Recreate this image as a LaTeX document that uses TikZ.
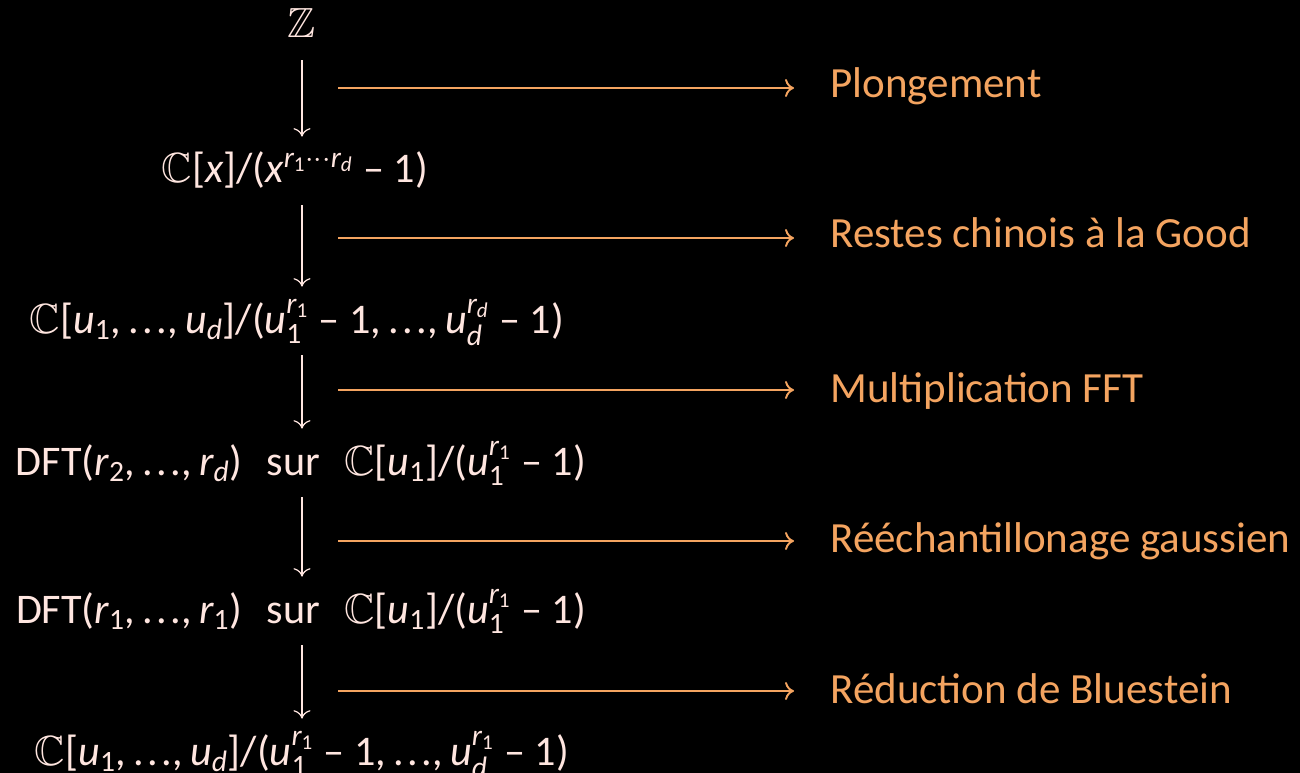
\documentclass[tikz,border=0pt]{standalone}
\usepackage{amsmath}
\usepackage{amssymb}
\usepackage{fontspec}
\setmainfont{Carlito}
\usetikzlibrary{positioning, arrows.meta}
\definecolor{cpink}{RGB}{255,230,224}
\definecolor{corange}{RGB}{244,164,96}
% variables in italic text, numbers and signs upright
\newcommand{\vx}[1]{\textit{#1}}
\newcommand{\nx}[1]{\text{#1}}
\newcommand{\mn}{\mathbin{\nx{–}}}
\newcommand{\cm}{\mathpunct{\nx{,}}}
\newcommand{\dts}{\nx{.\kern0.08em.\kern0.08em.}}

\begin{document}
\begin{tikzpicture}[
    x=0.02cm, y=-0.02cm,
    alg/.style={text=cpink, font=\fontsize{24}{28}\selectfont, anchor=base, inner sep=0pt, text height=0.92cm, text depth=0.44cm},
    lbl/.style={text=corange, font=\fontsize{24.5}{29}\selectfont, anchor=base west, inner sep=0pt},
    varrow/.style={-{To[length=1.7mm, width=3.4mm]}, draw=cpink, line width=0.7pt},
    harrow/.style={-{To[length=1.8mm, width=3.6mm]}, draw=corange, line width=1.1pt, shorten >=0.72cm}
]
\useasboundingbox (0,0) rectangle (1300,773);
\fill[black] (0,0) rectangle (1300,773);

\node[alg, text height=0.6cm] (zz) at (302,38) {$\mathbb{Z}$};
\node[alg] (cx) at (295,183) {$\mathbb{C}\nx{[}\vx{x}\nx{]/(}\vx{x}^{\vx{r}_{\nx{1}}\cdots\vx{r}_{\vx{d}}}\mn\nx{1)}$};
\node[alg] (cu) at (297,333) {$\mathbb{C}\nx{[}\vx{u}_{\nx{1}}\cm\dts\cm\vx{u}_{\vx{d}}\nx{]/(}\vx{u}_{\nx{1}}^{\vx{r}_{\nx{1}}}\mn\nx{1}\cm\dts\cm\vx{u}_{\vx{d}}^{\vx{r}_{\vx{d}}}\mn\nx{1)}$};
\node[alg] (dfta) at (301,475) {$\nx{DFT(}\vx{r}_{\nx{2}}\cm\dts\cm\vx{r}_{\vx{d}}\nx{)}\;\;\nx{sur}\;\;\mathbb{C}\nx{[}\vx{u}_{\nx{1}}\nx{]/(}\vx{u}_{\nx{1}}^{\vx{r}_{\nx{1}}}\mn\nx{1)}$};
\node[alg] (dftb) at (301,623) {$\nx{DFT(}\vx{r}_{\nx{1}}\cm\dts\cm\vx{r}_{\nx{1}}\nx{)}\;\;\nx{sur}\;\;\mathbb{C}\nx{[}\vx{u}_{\nx{1}}\nx{]/(}\vx{u}_{\nx{1}}^{\vx{r}_{\nx{1}}}\mn\nx{1)}$};
\node[alg] (cuu) at (302,765) {$\mathbb{C}\nx{[}\vx{u}_{\nx{1}}\cm\dts\cm\vx{u}_{\vx{d}}\nx{]/(}\vx{u}_{\nx{1}}^{\vx{r}_{\nx{1}}}\mn\nx{1}\cm\dts\cm\vx{u}_{\vx{d}}^{\vx{r}_{\nx{1}}}\mn\nx{1)}$};

\node[lbl] (plong) at (830,98) {Plongement};
\node[lbl] (restes) at (830,248) {Restes chinois à la Good};
\node[lbl] (mult) at (830,402) {Multiplication FFT};
\node[lbl] (reech) at (830,552) {Rééchantillonage gaussien};
\node[lbl] (blue) at (830,703) {Réduction de Bluestein};

\coordinate (s1) at (338,88);
\coordinate (s2) at (338,238);
\coordinate (s3) at (338,390);
\coordinate (s4) at (338,541);
\coordinate (s5) at (338,691);

\draw[varrow] (zz.south) -- (zz.south |- cx.north);
\draw[varrow] (cx.south -| zz.south) -- (cu.north -| zz.south);
\draw[varrow] (cu.south -| zz.south) -- (dfta.north -| zz.south);
\draw[varrow] (dfta.south -| zz.south) -- (dftb.north -| zz.south);
\draw[varrow] (dftb.south -| zz.south) -- (cuu.north -| zz.south);

\draw[harrow] (s1) -- (s1 -| plong.west);
\draw[harrow] (s2) -- (s2 -| restes.west);
\draw[harrow] (s3) -- (s3 -| mult.west);
\draw[harrow] (s4) -- (s4 -| reech.west);
\draw[harrow] (s5) -- (s5 -| blue.west);

\end{tikzpicture}
\end{document}
